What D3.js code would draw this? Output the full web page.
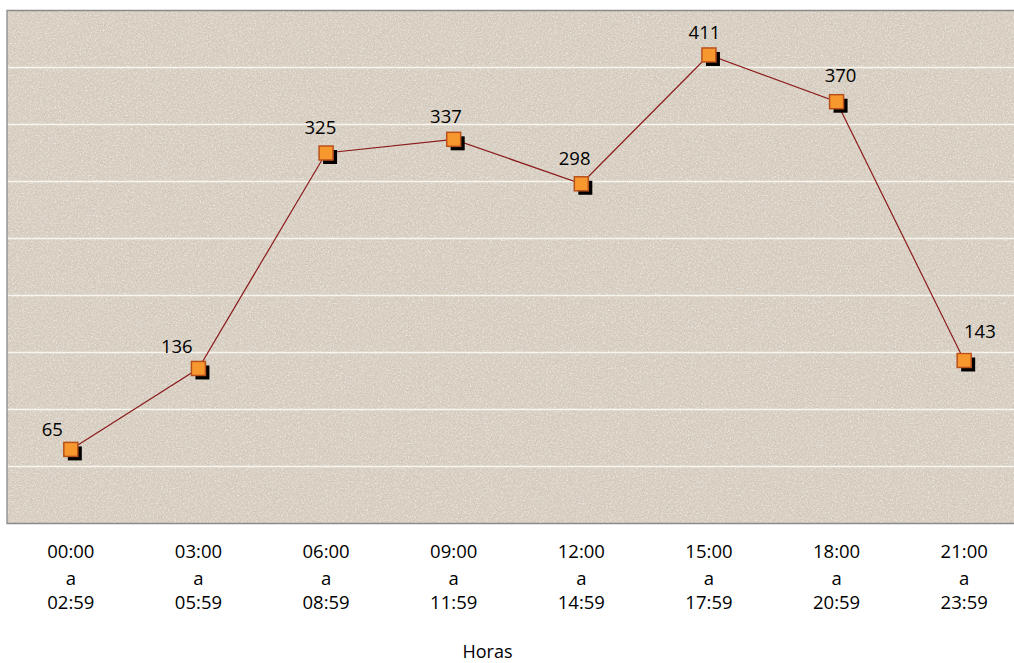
<!DOCTYPE html>
<html>
<head>
<meta charset="utf-8">
<script src="https://cdn.jsdelivr.net/npm/d3@7"></script>
<style>
  html, body { margin: 0; padding: 0; background: #ffffff; overflow: hidden; }
  svg { display: block; }
  text { font-family: "Open Sans", "Noto Sans", sans-serif; fill: #000; }
</style>
</head>
<body>
<svg id="chart" width="1014" height="663"></svg>
<script>
// ---- data ----
const startTimes = ["00:00", "03:00", "06:00", "09:00", "12:00", "15:00", "18:00", "21:00"];
const endTimes   = ["02:59", "05:59", "08:59", "11:59", "14:59", "17:59", "20:59", "23:59"];
const values     = [65, 136, 325, 337, 298, 411, 370, 143];
const yTicks     = [0, 50, 100, 150, 200, 250, 300, 350, 400, 450];
const axisTitle  = "Horas";

// ---- layout (label nudges, in px) ----
const labelDX = [-18.5, -21.6, -5.7, -7.7, -6.7, -4.5, 4, 15.7];
const labelDY = [-20, -22.6, -26, -22.6, -25, -22.3, -26, -29.6];

const svg = d3.select("#chart");
const plotLeft = 7, plotTop = 10.5, plotBottom = 523.5, plotRight = 7 + 1021;

const x = d3.scaleBand().domain(d3.range(values.length)).range([plotLeft, plotRight]).padding(0);
const y = d3.scaleLinear().domain([0, 450]).range([plotBottom, plotTop]);
const cx = i => x(i) + x.bandwidth() / 2;

const defs = svg.append("defs");
function noise(id, seed, freq, rgb, a, b) {
  const f = defs.append("filter").attr("id", id).attr("x", 0).attr("y", 0).attr("width", "100%").attr("height", "100%");
  f.append("feTurbulence").attr("type", "fractalNoise").attr("baseFrequency", freq).attr("numOctaves", 3).attr("seed", seed).attr("result", "t");
  f.append("feColorMatrix").attr("in", "t").attr("type", "matrix")
    .attr("values", `0 0 0 0 ${rgb[0]}  0 0 0 0 ${rgb[1]}  0 0 0 0 ${rgb[2]}  ${a} 0 0 0 ${b}`);
}
noise("noiseDark", 7, "0.7", [0.50, 0.46, 0.40], -3.0, 1.55);
noise("noiseLight", 21, "0.6", [0.97, 0.95, 0.92], 3.0, -1.45);

const plotW = plotRight - plotLeft, plotH = plotBottom - plotTop;
// background
svg.append("rect").attr("x", plotLeft).attr("y", plotTop).attr("width", plotW).attr("height", plotH).attr("fill", "#d9d0c3");
svg.append("rect").attr("x", plotLeft).attr("y", plotTop).attr("width", plotW).attr("height", plotH)
  .attr("filter", "url(#noiseDark)").attr("opacity", 0.5);
svg.append("rect").attr("x", plotLeft).attr("y", plotTop).attr("width", plotW).attr("height", plotH)
  .attr("filter", "url(#noiseLight)").attr("opacity", 0.5);

// gridlines
svg.append("g").selectAll("line").data(yTicks.filter(t => t > 0 && t < 450)).join("line")
  .attr("x1", plotLeft).attr("x2", plotRight)
  .attr("y1", d => y(d)).attr("y2", d => y(d))
  .attr("stroke", "#f8f5ef").attr("stroke-width", 1.5);

// border
svg.append("path")
  .attr("d", `M${plotRight},${plotTop}H${plotLeft}V${plotBottom}H${plotRight}`)
  .attr("fill", "none").attr("stroke", "#8a8a8a").attr("stroke-width", 1.3);

// line
svg.append("path").datum(values)
  .attr("d", d3.line().x((d, i) => cx(i)).y(d => y(d)))
  .attr("fill", "none").attr("stroke", "#8b1c1c").attr("stroke-width", 1.2);

// markers
const s = 14;
const m = svg.append("g").selectAll("g").data(values).join("g")
  .attr("transform", (d, i) => `translate(${cx(i)},${y(d)})`);
m.append("rect").attr("x", -s / 2 + 4).attr("y", -s / 2 + 4).attr("width", s).attr("height", s).attr("fill", "#000");
m.append("rect").attr("x", -s / 2).attr("y", -s / 2).attr("width", s).attr("height", s)
  .attr("fill", "#f7982f").attr("stroke", "#b9501c").attr("stroke-width", 1.5);

// data labels
svg.append("g").selectAll("text").data(values).join("text")
  .attr("x", (d, i) => cx(i) + labelDX[i])
  .attr("y", (d, i) => y(d) + labelDY[i])
  .attr("dy", "0.36em")
  .attr("text-anchor", "middle")
  .style("font-size", "18.5px")
  .text(d => d);

// x axis labels
const xl = svg.append("g").selectAll("text").data(startTimes).join("text")
  .attr("text-anchor", "middle")
  .style("font-size", "18.5px")
  .attr("transform", (d, i) => `translate(${cx(i)},0)`);
xl.append("tspan").attr("x", 0).attr("y", 551.7).attr("dy", "0.36em").text(d => d);
xl.append("tspan").attr("x", 0).attr("y", 578).attr("dy", "0.36em").text("a");
xl.append("tspan").attr("x", 0).attr("y", 602.7).attr("dy", "0.36em").text((d, i) => endTimes[i]);

// axis title
svg.append("text").attr("x", 487.5).attr("y", 652).attr("dy", "0.36em")
  .attr("text-anchor", "middle").style("font-size", "18px").text(axisTitle);
</script>
</body>
</html>
